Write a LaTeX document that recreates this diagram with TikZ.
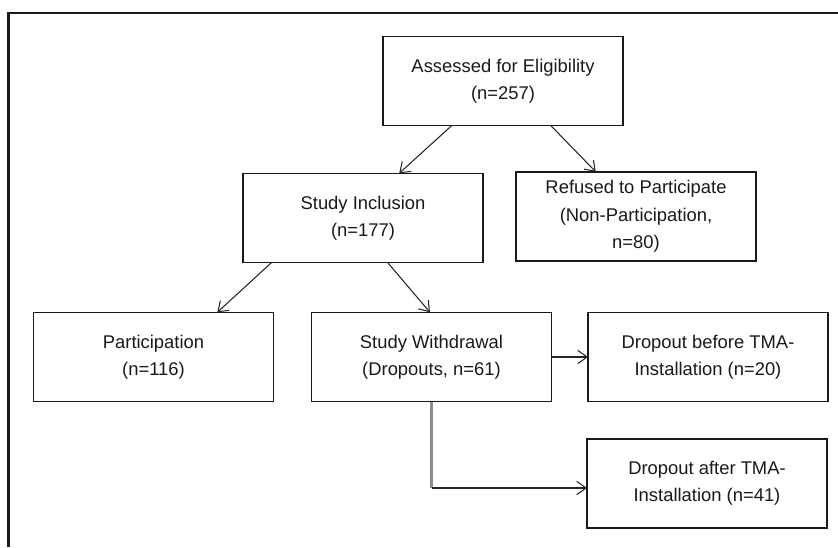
\documentclass[tikz,border=0pt]{standalone}
\usepackage{fontspec}
\setmainfont{Liberation Sans}
\usetikzlibrary{arrows.meta,positioning}

\begin{document}
\begin{tikzpicture}[x=0.75pt, y=-0.75pt,
    box/.style={draw=black!90, line width=1.1pt, minimum width=180pt, minimum height=67pt,
      align=center, outer sep=0pt, inner sep=2pt, font=\fontsize{13.8}{20.5}\selectfont, text=black!90},
    arr/.style={draw=black!85, line width=0.8pt, -{Straight Barb[length=7pt, width=10pt, line width=0.8pt]}}]
  \useasboundingbox (0,0) rectangle (838,547);
  % frame
  \draw[line width=1.6pt, black!90] (8.5,547) -- (8.5,13) -- (838,13);

  \node[box] (assess) at (503,81)    {Assessed for Eligibility\\(n=257)};
  \node[box] (incl)   at (363,218)   {Study Inclusion\\(n=177)};
  \node[box] (refuse) at (636,216.5) {Refused to Participate\\(Non-Participation,\\n=80)};
  \node[box] (partic) at (153.5,357) {Participation\\(n=116)};
  \node[box] (withdr) at (431.5,357) {Study Withdrawal\\(Dropouts, n=61)};
  \node[box] (before) at (708,357)   {Dropout before TMA-\\Installation (n=20)};
  \node[box] (after)  at (707,483.5) {Dropout after TMA-\\Installation (n=41)};

  \draw[arr] (assess.221) -- (incl.51);
  \draw[arr] (assess.317) -- (refuse.132);
  \draw[arr] (incl.206) -- (partic.35);
  \draw[arr] (incl.299) -- (withdr.92);
  \draw[arr] (withdr) -- (before);
  % dropouts after installation
  \coordinate (bend) at (431.5,488);
  \draw[gray!90, line width=1.6pt] (withdr.south) -- (bend);
  \draw[arr] (bend) -- (bend -| after.west);
\end{tikzpicture}
\end{document}
